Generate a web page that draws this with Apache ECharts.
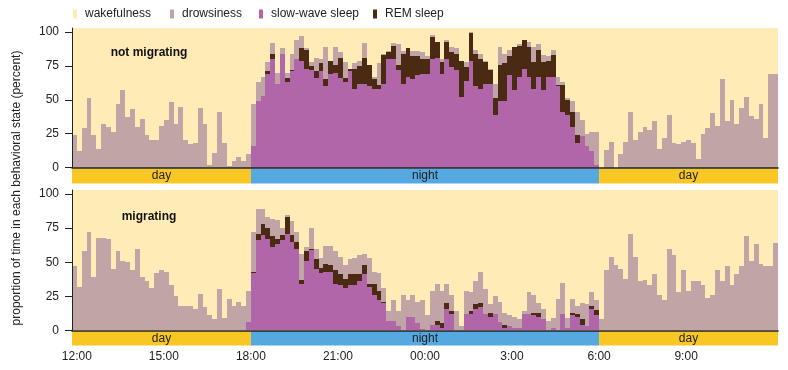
<!DOCTYPE html>
<html><head><meta charset="utf-8">
<script src="https://cdn.jsdelivr.net/npm/echarts@6/dist/echarts.min.js"></script>
<style>html,body{margin:0;padding:0;background:#fff}#c{width:788px;height:370px}</style>
</head><body><div id="c"></div>
<script>
// ---------- data ----------
const stateNames = ['wakefulness', 'drowsiness', 'slow-wave sleep', 'REM sleep'];
const panelTitles = ['not migrating', 'migrating'];
const timeLabels = ['12:00', '15:00', '18:00', '21:00', '00:00', '3:00', '6:00', '9:00'];
const timeTickMinutes = [10, 190, 370, 550, 730, 910, 1090, 1270]; // minutes after 11:50
const bandLabels = ['day', 'night', 'day'];
const bandMinutes = [370, 720, 370];
const yTicks = [0, 25, 50, 75, 100];

// 146 ten-minute bins from 11:50 to 12:10 next day
const categories = [];
for (let i = 0; i < 146; i++) {
  const m = (11 * 60 + 50 + i * 10) % 1440;
  categories.push(Math.floor(m / 60) + ':' + String(m % 60).padStart(2, '0'));
}

const topDrowsy = [24,12,29,51,24,14,32,30,26,47,57,37,43,30,36,24,20,20,31,35,48,32,45,20,17,18,44,32,2,11,41,18,1,5,8,5,10,
31,14,14,7,8,8,4,4,12,14,9,1,3,10,3,24,0,13,4,12,0,4,4,11,0,2,16,1,1,2,15,2,0,4,4,5,2,2,0,2,1,4,4,0,4,1,3,4,1,1,11,13,7,5,0,1,0,4,11,4,5,3,4,6,2,1,8,17,12,9,14,24,
0,13,19,0,10,19,41,20,26,30,28,34,14,22,39,18,17,19,20,18,6,25,29,40,31,65,34,50,32,44,52,38,36,47,22,69,69];
const topSWS = [0,0,0,0,0,0,0,0,0,0,0,0,0,0,0,0,0,0,0,0,0,0,0,0,0,0,0,0,0,0,0,0,0,0,0,0,0,
16,49,53,69,80,62,84,63,71,80,79,73,72,66,71,60,69,70,66,63,71,58,62,62,60,58,58,62,80,80,72,62,67,65,68,69,69,80,81,69,80,74,72,52,64,79,60,58,62,62,39,49,49,68,57,67,73,67,58,67,57,67,67,60,41,39,30,18,23,16,12,2,
0,0,0,0,0,0,0,0,0,0,0,0,0,0,0,0,0,0,0,0,0,0,0,0,0,0,0,0,0,0,0,0,0,0,0,0,0];
const topREM = [0,0,0,0,0,0,0,0,0,0,0,0,0,0,0,0,0,0,0,0,0,0,0,0,0,0,0,0,0,0,0,0,0,0,0,0,0,
0,0,0,2,4,0,0,3,1,0,9,14,3,5,6,5,10,6,15,3,2,15,13,19,16,7,3,21,5,10,4,22,21,17,14,11,11,16,12,9,13,11,12,27,10,20,24,22,16,10,12,27,28,14,32,23,21,22,20,20,21,12,16,1,20,11,11,6,0,0,0,0,
0,0,0,0,0,0,0,0,0,0,0,0,0,0,0,0,0,0,0,0,0,0,0,0,0,0,0,0,0,0,0,0,0,0,0,0,0];

const botDrowsy = [47,32,58,72,39,68,68,67,45,58,51,50,44,60,39,36,31,42,44,43,33,25,18,18,18,16,27,17,11,8,30,9,23,18,21,18,23,
29,18,11,8,13,14,5,2,10,7,19,3,15,8,7,13,14,14,13,10,11,12,14,8,19,9,13,10,7,15,11,26,12,16,16,21,11,25,27,24,14,12,14,3,17,14,17,23,18,6,13,15,9,8,8,6,2,16,13,7,8,7,7,23,23,7,10,6,12,16,10,7,
8,44,54,48,45,38,71,54,36,37,33,41,26,22,60,55,28,44,29,36,36,33,24,26,44,36,47,33,41,47,69,51,63,49,47,47,64];
const botSWS = [0,0,0,0,0,0,0,0,0,0,0,0,0,0,0,0,0,0,0,0,0,0,0,0,0,0,0,0,0,0,0,0,0,0,0,0,6,
42,66,70,67,61,63,66,71,65,60,34,51,59,45,42,43,43,34,33,31,33,33,36,41,32,26,22,20,7,7,3,0,10,10,5,1,0,4,4,2,16,12,0,0,12,12,16,17,12,10,12,6,2,3,2,2,12,12,11,10,8,0,2,0,12,2,11,10,4,3,16,11,
0,0,0,0,0,0,0,0,0,0,0,0,0,0,0,0,0,0,0,0,0,0,0,0,0,0,0,0,0,0,0,0,0,0,0,0,0];
const botREM = [0,0,0,0,0,0,0,0,0,0,0,0,0,0,0,0,0,0,0,0,0,0,0,0,0,0,0,0,0,0,0,0,0,0,0,0,0,
1,5,8,8,8,4,4,12,5,5,3,7,1,7,4,6,5,10,8,7,8,8,5,7,2,8,7,1,0,0,0,0,0,0,0,0,0,0,3,3,4,2,0,0,0,2,3,3,0,3,0,0,2,0,0,0,0,0,2,3,0,0,0,0,0,0,2,2,4,0,2,4,
0,0,0,0,0,0,0,0,0,0,0,0,0,0,0,0,0,0,0,0,0,0,0,0,0,0,0,0,0,0,0,0,0,0,0,0,0];

// ---------- chart ----------
const FONT = '"Liberation Sans", Arial, Helvetica, sans-serif';
const C = { wake: '#FEEBB5', drowsy: '#C1A4A6', sws: '#B066A8', rem: '#4B2A14', day: '#F9C723', night: '#56A8E0', ink: '#222' };
const stateColors = [C.wake, C.drowsy, C.sws, C.rem];

const panels = [
  { drowsy: topDrowsy, sws: topSWS, rem: topREM, top: 28, height: 139.5, bandTop: 168.5, bandH: 15 },
  { drowsy: botDrowsy, sws: botSWS, rem: botREM, top: 190, height: 140.3, bandTop: 331, bandH: 14.5 }
];

// one column = stacked SWS / REM / drowsiness; wakefulness is the remaining (background) share.
// Edges are snapped to whole pixels so neighbouring columns meet without seams.
function renderColumn(params, api) {
  const i = api.value(0);
  const sws = api.value(1), rem = api.value(2), dr = api.value(3);
  const w = api.size([1, 0])[0];
  const cx = api.coord([i, 0])[0];
  const x0 = Math.round(cx - w / 2), x1 = Math.round(cx + w / 2);
  const y0 = Math.round(api.coord([i, 0])[1]);
  const segs = [[sws, C.sws], [rem, C.rem], [dr, C.drowsy]];
  const children = [];
  let cum = 0, yb = y0;
  segs.forEach(([v, col]) => {
    if (v <= 0) return;
    cum += v;
    const yt = Math.round(api.coord([i, cum])[1]);
    if (yb - yt > 0) children.push({ type: 'rect', shape: { x: x0, y: yt, width: x1 - x0, height: yb - yt }, style: { fill: col } });
    yb = yt;
  });
  return { type: 'group', children };
}

const grid = [], xAxis = [], yAxis = [], series = [];
panels.forEach((p, k) => {
  const g = grid.length;
  grid.push({ left: 72, right: 10, top: p.top, height: p.height, show: true, backgroundColor: C.wake, borderWidth: 0 });
  grid.push({ left: 72, right: 10, top: p.bandTop, height: p.bandH });
  xAxis.push({ type: 'category', gridIndex: g, data: categories, boundaryGap: true, z: 5,
    axisLine: { show: true, lineStyle: { color: C.ink, width: 1.6 } }, axisTick: { show: false }, axisLabel: { show: false } });
  xAxis.push({ type: 'value', gridIndex: g + 1, min: 0, max: 1460,
    axisLine: { show: false }, axisTick: { show: false }, splitLine: { show: false },
    axisLabel: k === 1 ? { show: true, customValues: timeTickMinutes, formatter: v => timeLabels[timeTickMinutes.indexOf(v)],
      fontSize: 12, color: C.ink, fontFamily: FONT, margin: 5 } : { show: false } });
  yAxis.push({ type: 'value', gridIndex: g, min: 0, max: 103, z: 5,
    axisLine: { show: true, lineStyle: { color: C.ink, width: 1 } },
    axisTick: { show: true, length: 7, customValues: yTicks, lineStyle: { color: C.ink } },
    axisLabel: { customValues: yTicks, fontSize: 12, color: C.ink, fontFamily: FONT, margin: 13 },
    splitLine: { show: false } });
  yAxis.push({ type: 'category', gridIndex: g + 1, data: ['band'], show: false });

  const rows = categories.map((c, i) => [i, p.sws[i], p.rem[i], p.drowsy[i]]);
  series.push({ type: 'custom', name: 'states' + k, xAxisIndex: g, yAxisIndex: g, data: rows,
    encode: { x: 0, y: 1 }, renderItem: renderColumn, silent: true, z: 2 });

  bandMinutes.forEach((m, b) => {
    series.push({ type: 'bar', name: 'band' + k + b, xAxisIndex: g + 1, yAxisIndex: g + 1, stack: 'band' + k,
      data: [m], barWidth: '100%', itemStyle: { color: bandLabels[b] === 'night' ? C.night : C.day },
      label: { show: true, position: 'inside', formatter: bandLabels[b], fontSize: 12, color: C.ink, fontFamily: FONT },
      silent: true });
  });
});
// legend entries (colour keys for the four behavioural states)
stateNames.forEach((n, s) => {
  series.push({ type: 'bar', name: n, xAxisIndex: 0, yAxisIndex: 0, data: [], itemStyle: { color: stateColors[s] } });
});

const legendLeft = [73, 170, 259, 373];
const legend = stateNames.map((n, i) => ({
  data: [n], left: legendLeft[i], top: 8, padding: 0, icon: 'rect', itemWidth: 4, itemHeight: 9, selectedMode: false,
  textStyle: { fontSize: 12, color: C.ink, fontFamily: FONT, padding: [0, 0, 0, 3] }
}));

const chart = echarts.init(document.getElementById('c'), null, { renderer: 'canvas' });
chart.setOption({
  animation: false,
  textStyle: { fontFamily: FONT },
  legend, grid, xAxis, yAxis, series,
  graphic: [
    { type: 'text', x: 17, y: 188, rotation: Math.PI / 2, z: 100,
      style: { text: 'proportion of time in each behavioral state (percent)', font: '12px ' + FONT, fill: C.ink,
        align: 'center', verticalAlign: 'middle', textAlign: 'center', textVerticalAlign: 'middle' } },
    { type: 'text', x: 149, y: 53, z: 100,
      style: { text: panelTitles[0], font: 'bold 12px ' + FONT, fill: '#111',
        align: 'center', verticalAlign: 'middle', textAlign: 'center', textVerticalAlign: 'middle' } },
    { type: 'text', x: 149, y: 217, z: 100,
      style: { text: panelTitles[1], font: 'bold 12px ' + FONT, fill: '#111',
        align: 'center', verticalAlign: 'middle', textAlign: 'center', textVerticalAlign: 'middle' } }
  ]
});
</script></body></html>
